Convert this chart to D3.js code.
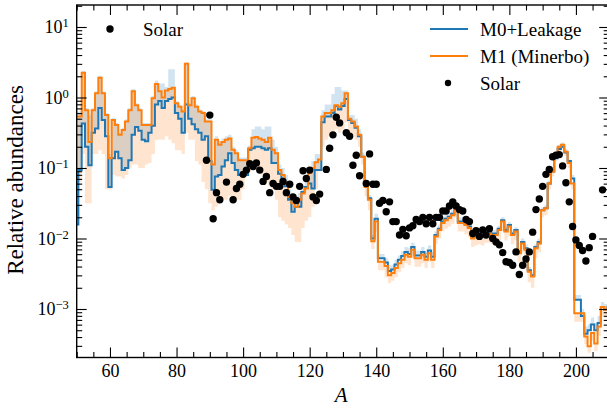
<!DOCTYPE html>
<html>
<head>
<meta charset="utf-8">
<script src="https://cdn.jsdelivr.net/npm/d3@7"></script>
<style>
body { margin: 0; background: #fff; }
svg, text { font-family: "Liberation Serif", "DejaVu Serif", serif; fill: #000; }
</style>
</head>
<body>
<div id="chartArea"></div>
<script>
// mass numbers A = 50 ... 210, values are log10 of the relative abundance
var massFirst = 50, massLast = 210;

var logM0 = [
    -1.8, -1.03, -0.37, -0.7, -0.96, -0.5, -0.44, -0.15, -0.32, -0.55,
    -1.27, -0.86, -0.77, -0.86, -1.03, -1.0, -0.89, -0.53, -0.42, -0.47,
    -0.6, -0.62, -0.5, -0.4, -0.1, -0.05, -0.15, -0.05, -0.02, 0.0,
    -0.22, -0.3, -0.5, -0.1, -0.3, -0.38, -0.45, -0.5, -0.6, -0.55,
    -0.9, -1.31, -1.12, -1.1, -0.98, -0.89, -0.79, -0.93, -1.03, -1.1,
    -1.1, -1.1, -0.74, -0.72, -0.7, -0.7, -0.72, -0.74, -0.72, -0.93,
    -0.93, -1.08, -1.15, -1.26, -1.45, -1.62, -1.55, -1.55, -1.34, -1.27,
    -1.22, -1.29, -1.03, -1.03, -0.35, -0.27, -0.27, -0.22, -0.12, -0.17,
    -0.12, -0.02, -0.32, -0.36, -0.43, -0.55, -0.84, -1.25, -1.43, -2.0,
    -1.72, -2.28, -2.28, -2.34, -2.46, -2.44, -2.37, -2.3, -2.25, -2.19,
    -2.22, -2.12, -2.24, -2.24, -2.19, -2.26, -2.17, -2.26, -1.95, -1.86,
    -1.76, -1.72, -1.69, -1.65, -1.55, -1.76, -1.76, -1.79, -1.83, -1.98,
    -1.95, -1.93, -1.95, -1.91, -1.91, -1.93, -1.93, -1.86, -1.74, -1.88,
    -1.81, -1.93, -1.88, -2.19, -2.05, -2.14, -2.45, -2.52, -2.12, -2.05,
    -1.6, -1.57, -1.22, -1.05, -0.86, -0.73, -0.7, -0.78, -0.9, -1.15,
    -2.87, -2.87, -3.1, -3.35, -3.3, -3.22, -3.3, -3.2, -2.97, -3.01, -2.97
];

var logM1 = [
    -0.27, -0.27, 0.35, -0.18, -0.63, -0.18, 0.06, 0.28, 0.06, -0.25,
    -0.86, -0.32, -0.39, -0.53, -0.46, -0.34, -0.18, 0.09, -0.11, -0.18,
    -0.39, -0.39, -0.39, -0.01, 0.19, 0.09, 0.0, 0.1, 0.12, 0.14,
    -0.08, -0.13, -0.2, 0.48, -0.11, -0.01, -0.13, -0.2, -0.22, -0.34,
    -0.34, -0.95, -0.6, -0.67, -0.63, -0.6, -0.58, -0.74, -0.79, -0.89,
    -0.89, -0.89, -0.72, -0.57, -0.56, -0.58, -0.6, -0.63, -0.57, -0.74,
    -0.79, -1.03, -1.1, -1.22, -1.41, -1.5, -1.55, -1.45, -1.36, -1.29,
    -1.07, -1.0, -0.92, -0.88, -0.27, -0.22, -0.22, -0.18, -0.11, -0.13,
    -0.08, 0.06, -0.3, -0.34, -0.41, -0.53, -0.84, -1.27, -1.45, -2.04,
    -1.76, -2.33, -2.33, -2.39, -2.52, -2.49, -2.42, -2.35, -2.3, -2.23,
    -2.26, -2.16, -2.28, -2.28, -2.23, -2.3, -2.21, -2.3, -1.97, -1.88,
    -1.78, -1.74, -1.71, -1.67, -1.57, -1.78, -1.78, -1.81, -1.85, -2.0,
    -1.97, -1.95, -1.97, -1.93, -1.93, -1.95, -1.95, -1.88, -1.76, -1.9,
    -1.83, -1.95, -1.9, -2.21, -2.07, -2.16, -2.47, -2.54, -2.14, -2.07,
    -1.6, -1.57, -1.22, -1.05, -0.84, -0.7, -0.67, -0.77, -0.93, -1.22,
    -3.06, -3.06, -3.06, -3.39, -3.53, -3.34, -3.49, -3.25, -2.97, -3.01, -2.97
];

// upper edge of the M0 spread (band drawn from the M0 line up to here)
var logM0Hi = [
    -0.2, -0.2, 0.38, -0.15, -0.25, -0.15, 0.09, 0.31, 0.09, -0.22,
    -0.8, -0.29, -0.36, -0.5, -0.43, -0.31, -0.15, 0.12, -0.08, -0.15,
    -0.36, -0.36, -0.36, 0.02, 0.24, 0.2, 0.2, 0.15, 0.4, 0.4,
    -0.05, -0.1, -0.17, 0.5, -0.08, 0.02, -0.1, -0.17, -0.19, -0.31,
    -0.31, -0.9, -0.55, -0.62, -0.58, -0.55, -0.53, -0.7, -0.75, -0.85,
    -0.85, -0.85, -0.68, -0.45, -0.41, -0.41, -0.45, -0.41, -0.41, -0.6,
    -0.7, -0.95, -1.0, -1.1, -1.3, -1.4, -1.4, -1.35, -1.3, -1.2,
    -1.0, -0.9, -0.8, -0.8, -0.18, -0.1, -0.1, 0.05, 0.15, 0.15,
    0.1, 0.1, -0.25, -0.25, -0.3, -0.45, -0.78, -1.2, -1.38, -1.95,
    -1.65, -2.22, -2.22, -2.28, -2.38, -2.38, -2.3, -2.24, -2.18, -2.12,
    -2.14, -2.06, -2.17, -2.17, -2.12, -2.19, -2.1, -2.19, -1.9, -1.8,
    -1.7, -1.66, -1.63, -1.6, -1.5, -1.7, -1.7, -1.74, -1.78, -1.93,
    -1.9, -1.88, -1.9, -1.86, -1.86, -1.88, -1.88, -1.82, -1.7, -1.83,
    -1.77, -1.88, -1.84, -2.14, -2.0, -2.08, -2.4, -2.47, -2.08, -2.0,
    -1.56, -1.53, -1.18, -1.01, -0.81, -0.67, -0.64, -0.73, -0.88, -1.1,
    -2.8, -2.8, -3.0, -3.25, -3.22, -3.12, -3.2, -3.1, -2.9, -2.93, -2.9
];

// lower edge of the M1 spread (band drawn from here up to the M1 line)
var logM1Lo = [
    -1.2, -1.2, -0.8, -1.5, -1.5, -0.8, -0.8, -0.75, -0.8, -1.3,
    -1.3, -1.1, -1.12, -1.12, -1.15, -1.1, -1.0, -0.95, -0.95, -1.0,
    -1.0, -0.95, -0.93, -0.8, -0.6, -0.6, -0.6, -0.55, -0.6, -0.65,
    -0.75, -0.75, -0.8, -0.5, -0.6, -0.6, -0.9, -0.95, -1.2, -1.3,
    -1.5, -1.6, -1.55, -1.45, -1.45, -1.45, -1.4, -1.45, -1.45, -1.45,
    -1.3, -1.1, -1.05, -1.0, -1.0, -1.05, -1.1, -1.2, -1.25, -1.3,
    -1.45, -1.7, -1.75, -1.8, -1.85, -1.95, -2.05, -2.05, -1.85, -1.75,
    -1.7, -1.55, -1.3, -1.05, -0.7, -0.6, -0.55, -0.5, -0.45, -0.5,
    -0.45, -0.35, -0.5, -0.55, -0.6, -0.7, -0.95, -1.4, -1.6, -2.15,
    -1.9, -2.45, -2.45, -2.55, -2.63, -2.6, -2.55, -2.48, -2.42, -2.35,
    -2.38, -2.28, -2.4, -2.4, -2.35, -2.42, -2.33, -2.42, -2.08, -2.0,
    -1.9, -1.86, -1.83, -1.79, -1.7, -1.9, -1.9, -1.94, -1.98, -2.12,
    -2.1, -2.08, -2.1, -2.06, -2.06, -2.08, -2.08, -2.02, -1.9, -2.03,
    -1.97, -2.08, -2.03, -2.33, -2.2, -2.3, -2.62, -2.7, -2.28, -2.2,
    -1.7, -1.67, -1.3, -1.12, -0.9, -0.76, -0.73, -0.83, -1.0, -1.3,
    -3.18, -3.18, -3.18, -3.5, -3.62, -3.45, -3.6, -3.38, -3.1, -3.12, -3.1
];

var solarMass = [
    89, 90, 91, 92, 93, 95, 97, 98, 99, 100,
    101, 102, 103, 104, 105, 106, 107, 108, 109, 110,
    111, 112, 113, 114, 115, 116, 117, 118, 119, 120,
    121, 122, 123, 125, 126, 127, 128, 129, 131, 132,
    133, 134, 135, 137, 138, 139, 140, 141, 142, 143,
    144, 145, 146, 147, 148, 149, 150, 151, 152, 153,
    154, 155, 156, 157, 158, 159, 160, 161, 162, 163,
    164, 165, 166, 167, 168, 169, 170, 171, 172, 173,
    174, 175, 176, 177, 178, 179, 180, 181, 182, 183,
    184, 185, 186, 187, 188, 189, 190, 191, 192, 193,
    194, 195, 196, 197, 198, 199, 200, 201, 202, 203,
    204, 205, 208
];
var solarLog = [
    -0.89, -0.25, -1.72, -1.35, -1.45, -1.2, -1.45, -1.29, -1.23, -1.09,
    -1.03, -0.94, -0.98, -0.93, -1.03, -1.19, -1.12, -1.35, -1.22, -1.26,
    -1.26, -1.19, -1.35, -1.23, -1.41, -1.46, -1.26, -1.04, -1.15, -1.03,
    -1.41, -1.46, -1.37, -1.02, -0.72, -0.53, -0.28, -0.36, -0.5, -0.55,
    -0.96, -0.82, -1.11, -1.22, -0.8, -1.23, -1.23, -1.5, -1.46, -1.62,
    -1.48, -1.76, -1.76, -1.95, -1.87, -1.96, -1.85, -1.82, -1.73, -1.76,
    -1.7, -1.79, -1.7, -1.79, -1.7, -1.7, -1.61, -1.61, -1.54, -1.48,
    -1.54, -1.59, -1.61, -1.73, -1.76, -1.93, -1.89, -1.97, -1.88, -1.95,
    -1.86, -2.0, -2.05, -2.09, -2.2, -2.33, -2.34, -2.38, -2.19, -2.51,
    -2.38, -2.29, -2.19, -1.91, -1.59, -1.44, -1.26, -1.09, -1.02, -0.84,
    -0.82, -0.81, -0.97, -1.21, -1.48, -1.83, -2.02, -2.1, -2.17, -2.32,
    -2.13, -1.97, -1.31
];

var xTickMajor = [60, 80, 100, 120, 140, 160, 180, 200];
var yTickExp = [-3, -2, -1, 0, 1];
var legendNames = ['M0+Leakage', 'M1 (Minerbo)', 'Solar'];

var colBlue = '#1f77b4', colOrange = '#ff7f0e';
var serif = '"Liberation Serif", "DejaVu Serif", serif';

var W = 607, H = 409;
var pLeft = 76.7, pRight = 609.2, pTop = 5, pBottom = 357.5;

var svg = d3.select('#chartArea').append('svg')
    .attr('width', W)
    .attr('height', H)
    .style('font-family', serif);

var xScale = d3.scaleLinear()
    .domain([50, 210])
    .range([pLeft, pRight]);

var yScale = d3.scaleLog()
    .domain([Math.pow(10, -3.688), Math.pow(10, 1.312)])
    .range([pBottom, pTop]);

var rows = d3.range(massFirst, massLast + 1).map(function (a, i) {
    return {
        a: a,
        m0: Math.pow(10, logM0[i]),
        m1: Math.pow(10, logM1[i]),
        m0hi: Math.pow(10, logM0Hi[i]),
        m1lo: Math.pow(10, logM1Lo[i])
    };
});

svg.append('clipPath').attr('id', 'plotClip')
    .append('rect')
    .attr('x', pLeft).attr('y', pTop)
    .attr('width', pRight - pLeft).attr('height', pBottom - pTop);

var plot = svg.append('g').attr('clip-path', 'url(#plotClip)');

var blueBand = d3.area()
    .curve(d3.curveStep)
    .x(function (d) { return xScale(d.a); })
    .y0(function (d) { return yScale(d.m0); })
    .y1(function (d) { return yScale(d.m0hi); });

var orangeBand = d3.area()
    .curve(d3.curveStep)
    .x(function (d) { return xScale(d.a); })
    .y0(function (d) { return yScale(d.m1lo); })
    .y1(function (d) { return yScale(d.m1); });

plot.append('path').datum(rows)
    .attr('d', blueBand)
    .attr('fill', colBlue)
    .attr('fill-opacity', 0.2);

plot.append('path').datum(rows)
    .attr('d', orangeBand)
    .attr('fill', colOrange)
    .attr('fill-opacity', 0.2);

function stepLine(key) {
    return d3.line()
        .curve(d3.curveStep)
        .x(function (d) { return xScale(d.a); })
        .y(function (d) { return yScale(d[key]); });
}

plot.append('path').datum(rows)
    .attr('d', stepLine('m0'))
    .attr('fill', 'none')
    .attr('stroke', colBlue)
    .attr('stroke-width', 2);

plot.append('path').datum(rows)
    .attr('d', stepLine('m1'))
    .attr('fill', 'none')
    .attr('stroke', colOrange)
    .attr('stroke-width', 2);

plot.selectAll('circle.solar')
    .data(solarMass)
    .enter()
    .append('circle')
    .attr('class', 'solar')
    .attr('cx', function (d) { return xScale(d); })
    .attr('cy', function (d, i) { return yScale(Math.pow(10, solarLog[i])); })
    .attr('r', 3.7)
    .attr('fill', '#000');

// ---- axes (ticks point inwards on all four sides)
var xMinor = d3.range(50, 211, 5).filter(function (v) { return xTickMajor.indexOf(v) < 0; });
var yMajor = yTickExp.map(function (e) { return Math.pow(10, e); });
var yMinor = [];
d3.range(-4, 2).forEach(function (e) {
    d3.range(2, 10).forEach(function (m) {
        var v = m * Math.pow(10, e);
        if (v > yScale.domain()[0] && v < yScale.domain()[1]) yMinor.push(v);
    });
});

function styleAxis(g) {
    g.select('.domain').remove();
    g.attr('font-family', serif);
    g.selectAll('.tick line').attr('stroke', '#000').attr('stroke-width', 1.1);
    g.selectAll('.tick text').style('font-size', '18px').style('font-family', serif);
}

svg.append('g').attr('transform', 'translate(0,' + pBottom + ')')
    .call(d3.axisBottom(xScale).tickValues(xTickMajor).tickSize(-10).tickPadding(7))
    .call(styleAxis);
svg.append('g').attr('transform', 'translate(0,' + pBottom + ')')
    .call(d3.axisBottom(xScale).tickValues(xMinor).tickSize(-5.5).tickFormat(''))
    .call(styleAxis);
svg.append('g').attr('transform', 'translate(0,' + pTop + ')')
    .call(d3.axisTop(xScale).tickValues(xTickMajor).tickSize(-10).tickFormat(''))
    .call(styleAxis);
svg.append('g').attr('transform', 'translate(0,' + pTop + ')')
    .call(d3.axisTop(xScale).tickValues(xMinor).tickSize(-5.5).tickFormat(''))
    .call(styleAxis);

var gy = svg.append('g').attr('transform', 'translate(' + pLeft + ',0)')
    .call(d3.axisLeft(yScale).tickValues(yMajor).tickSize(-10).tickPadding(8))
    .call(styleAxis);
gy.selectAll('.tick text').each(function (d) {
    var t = d3.select(this);
    var e = Math.round(Math.log10(d));
    t.text('');
    t.append('tspan').text('10');
    t.append('tspan')
        .attr('dy', '-0.5em')
        .style('font-size', '12.5px')
        .text(e < 0 ? '\u2212' + (-e) : String(e));
});
svg.append('g').attr('transform', 'translate(' + pLeft + ',0)')
    .call(d3.axisLeft(yScale).tickValues(yMinor).tickSize(-5.5).tickFormat(''))
    .call(styleAxis);
svg.append('g').attr('transform', 'translate(' + pRight + ',0)')
    .call(d3.axisRight(yScale).tickValues(yMajor).tickSize(-10).tickFormat(''))
    .call(styleAxis);
svg.append('g').attr('transform', 'translate(' + pRight + ',0)')
    .call(d3.axisRight(yScale).tickValues(yMinor).tickSize(-5.5).tickFormat(''))
    .call(styleAxis);

svg.append('rect')
    .attr('x', pLeft).attr('y', pTop)
    .attr('width', pRight - pLeft).attr('height', pBottom - pTop)
    .attr('fill', 'none')
    .attr('stroke', '#000')
    .attr('stroke-width', 1.4);

// axis titles
svg.append('text')
    .attr('x', xScale(129.5))
    .attr('y', 402)
    .attr('text-anchor', 'middle')
    .style('font-size', '21px')
    .style('font-style', 'italic')
    .text('A');

svg.append('text')
    .attr('transform', 'translate(23,180) rotate(-90)')
    .attr('text-anchor', 'middle')
    .style('font-size', '23px')
    .text('Relative abundances');

// "Solar" note at top-left
svg.append('circle').attr('cx', 110).attr('cy', 29).attr('r', 3.7).attr('fill', '#000');
svg.append('text').attr('x', 143).attr('y', 35.5).style('font-size', '19px').text('Solar');

// legend
var legend = svg.append('g').attr('transform', 'translate(430,29)');
legendNames.forEach(function (name, i) {
    var g = legend.append('g').attr('transform', 'translate(0,' + (i * 27) + ')');
    if (i < 2) {
        g.append('line')
            .attr('x1', 0).attr('x2', 38)
            .attr('stroke', i === 0 ? colBlue : colOrange)
            .attr('stroke-width', 2);
    } else {
        g.append('circle').attr('cx', 18).attr('r', 3.2).attr('fill', '#000');
    }
    g.append('text')
        .attr('x', 50)
        .attr('y', 6.5)
        .style('font-size', '19px')
        .text(name);
});
</script>
</body>
</html>
